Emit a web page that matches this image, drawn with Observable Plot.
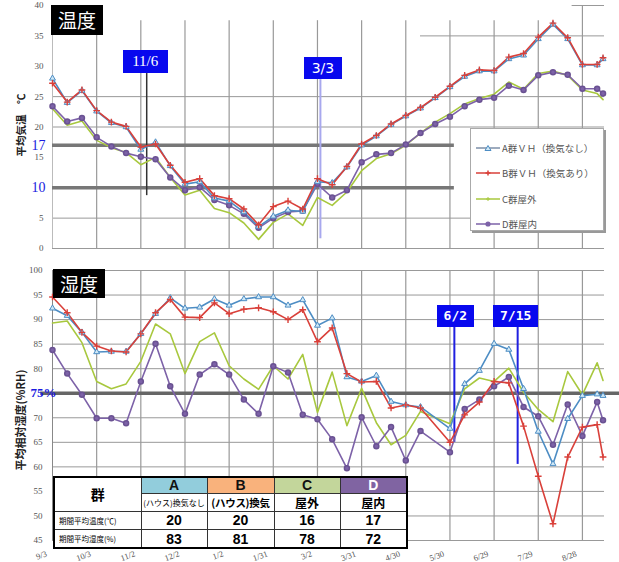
<!DOCTYPE html>
<html><head><meta charset="utf-8">
<script src="https://cdn.jsdelivr.net/npm/d3@7"></script>
<script src="https://cdn.jsdelivr.net/npm/@observablehq/plot@0.6"></script>
<style>
body{margin:0;background:#fff;}
#wrap{position:relative;width:619px;height:562px;overflow:hidden;font-family:"Noto Sans CJK JP","Noto Sans",sans-serif;background:#fff;}
#wrap > svg{position:absolute;left:0;}
.tag{position:absolute;box-sizing:border-box;background:#0808ee;color:#fff;text-align:center;}
.blk{position:absolute;box-sizing:border-box;background:#000;color:#fff;text-align:center;font-size:19px;line-height:29px;}
.ytitle{position:absolute;text-align:center;font-weight:bold;color:#222;transform:rotate(-90deg);white-space:nowrap;}
#legend{position:absolute;left:470px;top:128px;width:134px;height:103px;background:#fff;border:1px solid #aaa;box-shadow:2px 2px 0 #999;padding-top:6px;box-sizing:border-box;}
#legend .row{height:25.5px;display:flex;align-items:center;font-size:9.5px;color:#555;white-space:nowrap;padding-left:5px;}
#legend svg{position:static;margin-right:2px;}
#tbl{position:absolute;left:53px;top:476px;width:353px;height:68px;border-collapse:collapse;table-layout:fixed;background:#fff;border:2px solid #000;font-family:"Liberation Sans",Arial,sans-serif;}
#tbl td{border:1px solid #333;padding:0;text-align:center;overflow:hidden;white-space:nowrap;line-height:1;}
</style></head>
<body><div id="wrap"></div>
<script>
// ---- data ----
const days = [0,10,20,30,40,50,60,70,80,90,100,110,120,130,140,150,160,170,180,190,200,210,220,230,240,250,260,270,280,290,300,310,320,330,340,350,360,370,374];
const tempA = [28.0,24.0,26.0,22.6,20.7,20.0,16.3,17.5,13.6,10.6,11.0,8.3,7.8,6.0,3.6,5.3,6.3,6.1,11.0,10.8,13.4,17.0,18.5,20.4,21.8,23.1,24.8,26.6,28.3,29.2,29.2,31.2,31.8,34.5,36.9,34.5,30.2,30.2,31.2];
const tempB = [27.2,24.1,26.1,22.7,20.8,20.1,16.7,17.2,13.7,10.9,11.5,8.7,8.2,6.5,3.9,6.9,7.8,6.5,11.5,10.5,13.5,17.2,18.6,20.5,21.9,23.2,24.9,26.7,28.5,29.4,29.3,31.5,32.1,34.8,37.1,34.7,30.3,30.3,31.4];
const tempC = [23.0,20.3,21.0,17.8,16.6,15.8,13.8,15.0,11.7,8.8,9.6,6.6,5.9,4.2,1.5,4.3,5.7,3.8,8.4,7.1,9.3,12.8,14.8,15.6,17.0,19.0,20.8,22.2,23.8,24.7,25.4,27.4,26.2,28.8,29.2,28.5,26.1,25.5,24.5];
const tempD = [23.4,20.9,21.5,18.3,16.8,15.7,15.1,14.7,11.7,9.6,10.1,8.0,7.1,5.7,3.4,5.0,6.0,6.2,10.6,8.4,9.6,14.2,15.5,15.7,17.1,19.0,20.5,21.7,23.4,24.5,24.8,26.8,26.1,28.5,29.0,28.6,26.3,26.3,25.5];
const humA = [92.3,90.8,87.4,83.4,83.5,83.5,87.1,91.2,94.4,92.3,92.5,94.2,92.9,94.2,94.6,94.6,92.9,94.0,88.8,90.3,78.3,77.4,78.6,73.3,72.6,72.2,null,67.8,76.9,79.6,85.1,83.9,75.9,67.2,60.6,69.8,74.5,74.8,74.5];
const humB = [94.6,91.4,87.4,84.6,83.6,83.4,87.1,91.4,94.1,90.5,90.4,93.4,91.2,92.1,92.4,91.6,90.0,92.0,85.5,88.3,79.0,77.3,77.4,72.0,72.6,72.0,null,65.0,70.6,73.2,77.4,77.1,68.3,58.1,48.4,62.0,68.1,68.6,62.0];
const humC = [89.3,89.7,85.3,77.4,75.9,76.9,81.5,89.1,87.1,79.0,85.5,87.3,80.6,77.9,75.8,80.6,77.9,82.9,71.1,79.3,68.4,76.0,69.0,64.5,66.4,71.3,null,68.8,75.9,78.1,77.4,80.1,75.2,71.7,69.2,79.4,74.7,81.2,77.6];
const humD = [83.8,79.0,74.7,69.9,69.9,68.9,77.4,85.1,76.4,70.8,78.8,80.9,78.8,73.7,70.8,80.5,79.2,70.6,69.7,65.6,59.7,70.1,64.2,68.1,61.3,67.3,null,63.0,71.8,73.7,76.4,78.3,72.2,70.3,64.5,72.7,66.3,73.2,69.5];

const seriesNames = ["A群ＶＨ（換気なし）","B群ＶＨ（換気あり）","C群屋外","D群屋内"];
const seriesColors = ["#4d8dc4","#d9403a","#a8c83e","#7d62a8"];
const gridDays = [30,60,90,120,150,180,210,240,270,300,330,360];
const xTickDays = [0,30,60,90,120,150,180,210,240,270,300,330,360];
const xTickLabels = ["9/3","10/3","11/2","12/2","1/2","1/31","3/2","3/31","4/30","5/30","6/29","7/29","8/28"];
const tempTicks = [0,5,15,20,25,30,35,40];
const tempGrid = [0,5,20,25];
const tempRefs = [17,10];
const humTicks = [45,50,55,60,65,70,80,85,90,95,100];
const humGrid = [45,50,55,60,65,70,75,80,85,90,95,100];
const humRef = [75];
const tempEvents = [{label:"11/6",day:64,y1:8.7,y2:28.8},{label:"3/3",day:182,y1:1.6,y2:27.8}];
const humEvents = [{label:"6/2",day:273,y1:65,y2:88.4},{label:"7/15",day:316,y1:60.5,y2:88.4}];
const tableGroups = ["A","B","C","D"];
const tableSub = ["(ハウス)換気なし","(ハウス)換気","屋外","屋内"];
const tableTemp = [20,20,16,17];
const tableHum = [83,81,78,72];
const tableColors = ["#92cddc","#f9b27c","#c3d69b","#8064a2"];

function tidy(arrs){
  const out=[];
  arrs.forEach((a,s)=>a.forEach((v,i)=>{ if(v!=null) out.push({day:days[i],v,s}); }));
  return out;
}
const tempData = tidy([tempA,tempB,tempC,tempD]);
const humData = tidy([humA,humB,humC,humD]);

function seriesMarks(data){
  const m=[];
  [2,3,0,1].forEach(k=>{
    m.push(Plot.line(data.filter(d=>d.s===k),{x:"day",y:"v",stroke:seriesColors[k],strokeWidth:1.6}));
  });
  m.push(Plot.dot(data.filter(d=>d.s===3),{x:"day",y:"v",r:2.5,fill:seriesColors[3],stroke:"#6a5292"}));
  m.push(Plot.dot(data.filter(d=>d.s===0),{x:"day",y:"v",symbol:"triangle",r:2.2,fill:"#cfe8f6",stroke:seriesColors[0],strokeWidth:1}));
  m.push(Plot.dot(data.filter(d=>d.s===1),{x:"day",y:"v",symbol:"plus",r:2.3,stroke:seriesColors[1],strokeWidth:1.4}));
  return m;
}

const common = {width:619, marginLeft:52, marginRight:15,
  x:{domain:[0,375], axis:null},
  style:{fontSize:"9px", fontFamily:"'Liberation Serif',serif", color:"#555", background:"transparent", overflow:"visible"}};

const topPlot = Plot.plot({...common, height:258, marginTop:5, marginBottom:10,
  y:{domain:[0,40], ticks:tempTicks, tickSize:0, tickPadding:9, label:null},
  marks:[
    Plot.ruleY(tempGrid,{stroke:"#999",strokeWidth:1}),
    Plot.ruleY([35],{x1:250,x2:375,stroke:"#999"}),
    Plot.ruleY([40],{x1:353,x2:375,stroke:"#999"}),
    Plot.ruleX(gridDays.filter(d=>d<360),{y1:0,y2:37.5,stroke:"#999",strokeWidth:1.2}),
    Plot.ruleX([360],{y1:0,y2:40,stroke:"#999",strokeWidth:1.2}),
    Plot.ruleX([0],{y1:0,y2:37.5,stroke:"#bbb"}),
    Plot.ruleY(tempRefs,{x1:0,x2:273,stroke:"#777",strokeWidth:3.5}),
    Plot.text(tempRefs,{x:0,y:d=>d,text:d=>String(d),dx:-7,textAnchor:"end",fill:"#1a1ae0",fontSize:14,fontFamily:"'Liberation Serif',serif"}),
    Plot.ruleX([tempEvents[0]],{x:"day",y1:"y1",y2:"y2",stroke:"#333",strokeWidth:1.5}),
    Plot.ruleX([tempEvents[1]],{x:"day",y1:"y1",y2:"y2",stroke:"#a8a8ee",strokeWidth:2}),
    ...seriesMarks(tempData)
  ]});
topPlot.style.top="0px";

const botPlot = Plot.plot({...common, height:304, marginTop:12, marginBottom:22,
  y:{domain:[45,100], ticks:humTicks, tickSize:0, tickPadding:10, label:null},
  marks:[
    Plot.ruleY(humGrid,{stroke:"#999",strokeWidth:1}),
    Plot.ruleX(gridDays,{y1:45,y2:100,stroke:"#999",strokeWidth:1.2}),
    Plot.ruleX([0],{y1:45,y2:100,stroke:"#888"}),
    Plot.ruleY(humRef,{x1:-8,x2:386,stroke:"#666",strokeWidth:3.5}),
    Plot.text(humRef,{x:0,y:d=>d,text:d=>d+"%",dx:4,textAnchor:"end",fill:"#1a1ae0",fontSize:13,fontWeight:"bold",fontFamily:"'Liberation Serif',serif"}),
    Plot.text(xTickDays,{x:d=>d,y:45,text:(d,i)=>xTickLabels[i],dy:13,dx:-6,rotate:-20,textAnchor:"end",fontSize:8.5,fill:"#555"}),
    ...humEvents.map(e=>Plot.ruleX([e],{x:"day",y1:"y1",y2:"y2",stroke:"#2020e0",strokeWidth:2})),
    ...seriesMarks(humData)
  ]});
botPlot.style.top="258px";

const wrap=document.getElementById("wrap");
wrap.appendChild(topPlot); wrap.appendChild(botPlot);

const xs=topPlot.scale("x"), yt=topPlot.scale("y"), yb=botPlot.scale("y");
function addTag(label, cx, bottom, w, h, font){
  const d=document.createElement("div"); d.className="tag";
  d.style.left=(cx-w/2)+"px"; d.style.top=(bottom-h)+"px"; d.style.width=w+"px"; d.style.height=h+"px";
  d.style.font=font; d.style.lineHeight=h+"px"; d.textContent=label; wrap.appendChild(d);
}
addTag(tempEvents[0].label, xs.apply(tempEvents[0].day)-1, yt.apply(tempEvents[0].y2), 45, 23, "15px 'Liberation Serif',serif");
addTag(tempEvents[1].label, xs.apply(tempEvents[1].day)+3, yt.apply(tempEvents[1].y2), 38, 22, "14px 'DejaVu Sans',sans-serif");
humEvents.forEach((e,i)=>addTag(e.label, xs.apply(e.day)+(i?-1.5:1.5), 258+yb.apply(e.y2), i?45:37, 22, "bold 13px 'DejaVu Sans Mono',monospace"));

function addBlk(t,l,tp,w,h){const d=document.createElement("div");d.className="blk";d.style.left=l+"px";d.style.top=tp+"px";d.style.width=w+"px";d.style.height=h+"px";d.textContent=t;wrap.appendChild(d);}
addBlk("温度",51,5,52,30);
addBlk("湿度",53,269,52,29);

function addYTitle(t,cx,cy,w,fs){const d=document.createElement("div");d.className="ytitle";d.style.width=w+"px";d.style.left=(cx-w/2)+"px";d.style.top=(cy-8)+"px";d.style.height="16px";d.style.fontSize=fs+"px";d.textContent=t;wrap.appendChild(d);}
addYTitle("平均気温　℃",21,125,70,10.5);
addYTitle("平均相対湿度(%RH)",20,420,110,11);

// legend
const lg=document.createElement("div"); lg.id="legend";
seriesNames.forEach((n,k)=>{
  const r=document.createElement("div"); r.className="row";
  let mk="";
  if(k===0) mk=`<path d="M12,2.5 L15,7.5 L9,7.5 Z" fill="#cfe8f6" stroke="${seriesColors[0]}"/>`;
  if(k===1) mk=`<path d="M9.5,5 H14.5 M12,2.5 V7.5" stroke="${seriesColors[1]}" stroke-width="1.5"/>`;
  if(k===2) mk=`<path d="M10,5 H14 M12,3 V7" stroke="${seriesColors[2]}" stroke-width="1"/>`;
  if(k===3) mk=`<circle cx="12" cy="5" r="2.6" fill="${seriesColors[3]}"/>`;
  r.innerHTML=`<svg width="24" height="10"><line x1="0" y1="5" x2="24" y2="5" stroke="${k===0?'#7d8fa8':seriesColors[k]}" stroke-width="1.5"/>${mk}</svg><span>${n}</span>`;
  lg.appendChild(r);
});
wrap.appendChild(lg);

// table
const tb=document.createElement("table"); tb.id="tbl";
let h=`<colgroup><col style="width:87px"><col style="width:66px"><col style="width:67px"><col style="width:66px"><col style="width:67px"></colgroup>`;
h+=`<tr style="height:16px"><td rowspan="2" style="font:bold 14px 'Noto Sans CJK JP',sans-serif;">群</td>`+
  tableGroups.map((g,i)=>`<td style="background:${tableColors[i]};font-weight:bold;font-size:14px;color:${i===3?'#fff':'#111'};border-left:1.5px solid #000">${g}</td>`).join("")+`</tr>`;
h+=`<tr style="height:15px">`+tableSub.map((s,i)=>`<td style="font:${i===0?'8px':(i===1?'bold 10.5px':'bold 12px')} 'Noto Sans CJK JP',sans-serif;letter-spacing:${i===1?'-0.3px':'0'};border-left:1.5px solid #000">${s}</td>`).join("")+`</tr>`;
h+=`<tr style="height:18.5px"><td style="font:7.5px 'Noto Sans CJK JP',sans-serif;text-align:left;padding-left:4px">期間平均温度(℃)</td>`+tableTemp.map(v=>`<td style="font-weight:bold;font-size:14px;border-left:1.5px solid #000">${v}</td>`).join("")+`</tr>`;
h+=`<tr style="height:18.5px"><td style="font:7.5px 'Noto Sans CJK JP',sans-serif;text-align:left;padding-left:4px">期間平均湿度(%)</td>`+tableHum.map(v=>`<td style="font-weight:bold;font-size:14px;border-left:1.5px solid #000">${v}</td>`).join("")+`</tr>`;
tb.innerHTML=h; wrap.appendChild(tb);
</script>
</body></html>
